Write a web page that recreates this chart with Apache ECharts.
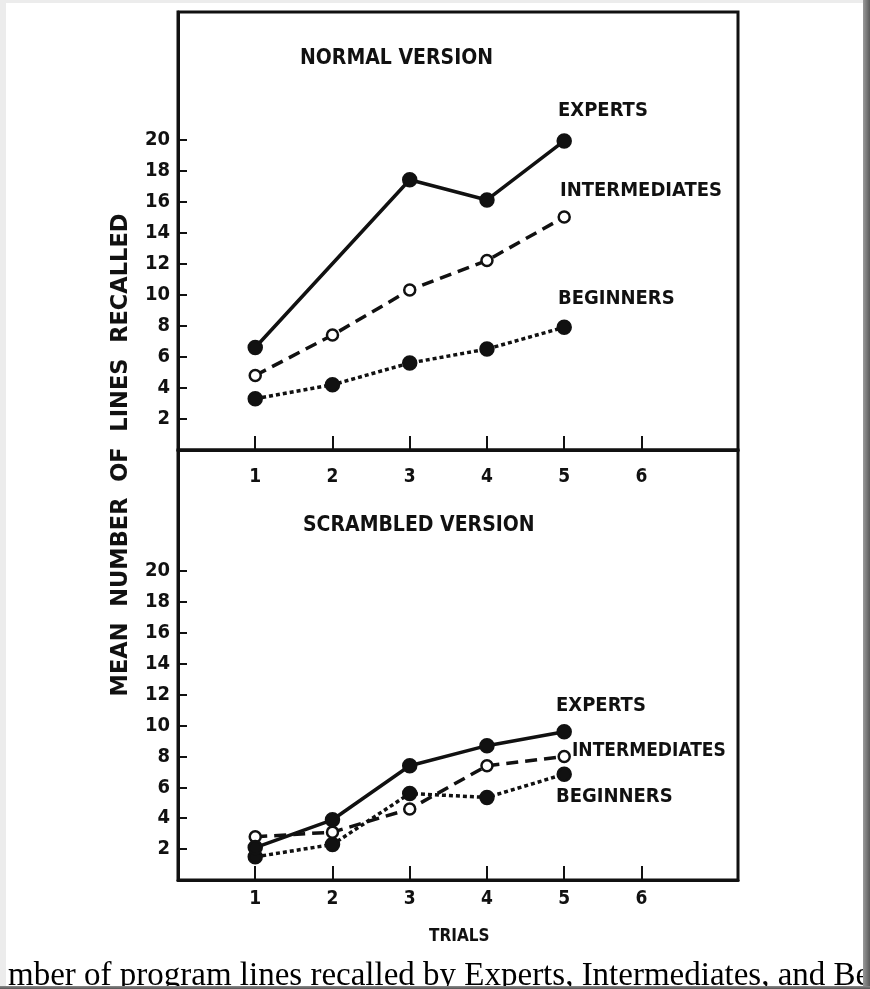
<!DOCTYPE html>
<html>
<head>
<meta charset="utf-8">
<script src="https://cdn.jsdelivr.net/npm/echarts@6/dist/echarts.min.js"></script>
<style>
html,body{margin:0;padding:0;background:#ececec;}
#chart{width:870px;height:989px;}
</style>
</head>
<body>
<div id="chart"></div>
<script>
// ---- data ----
const trials = [1, 2, 3, 4, 5];
const xTickValues = [1, 2, 3, 4, 5, 6];
const yTickValues = [2, 4, 6, 8, 10, 12, 14, 16, 18, 20];
const groups = ['EXPERTS', 'INTERMEDIATES', 'BEGINNERS'];
const normalExperts = [6.6, null, 17.4, 16.1, 19.9];
const normalIntermediates = [4.8, 7.4, 10.3, 12.2, 15.0];
const normalBeginners = [3.3, 4.2, 5.6, 6.5, 7.9];
const scrambledExperts = [2.1, 3.9, 7.4, 8.7, 9.6];
const scrambledIntermediates = [2.8, 3.1, 4.6, 7.4, 8.0];
const scrambledBeginners = [1.5, 2.3, 5.6, 5.35, 6.85];
const panelTitles = ['NORMAL VERSION', 'SCRAMBLED VERSION'];
const yAxisTitle = 'MEAN NUMBER OF LINES RECALLED';
const xAxisTitle = 'TRIALS';
const caption = 'mber of program lines recalled by Experts, Intermediates, and Be';

// ---- build ----
const INK = '#111';
const FONT = '"DejaVu Sans Condensed", "DejaVu Sans", sans-serif';
const pairs = vals => trials.map((t, i) => [t, vals[i]]).filter(p => p[1] !== null);

function xAxisFor(gridIndex, margin) {
  return {
    type: 'value', gridIndex, min: 0, max: 7.25,
    axisLine: { show: true, lineStyle: { color: INK, width: 3 } },
    axisTick: { show: true, inside: true, length: 14, customValues: xTickValues, lineStyle: { color: INK, width: 2 } },
    axisLabel: { show: true, customValues: xTickValues, margin, color: INK, fontFamily: FONT, fontWeight: 'bold', fontSize: 19 },
    splitLine: { show: false }
  };
}
function yAxisFor(gridIndex, max) {
  return {
    type: 'value', gridIndex, min: 0, max,
    axisLine: { show: true, lineStyle: { color: INK, width: 3 } },
    axisTick: { show: true, inside: true, length: 9, customValues: yTickValues, lineStyle: { color: INK, width: 2 } },
    axisLabel: { show: true, customValues: yTickValues, margin: 8, color: INK, fontFamily: FONT, fontWeight: 'bold', fontSize: 20 },
    splitLine: { show: false }
  };
}
const styles = [
  { type: 'solid', symbolFill: INK, symbolSize: 13 },
  { type: [12, 7], symbolFill: '#fff', symbolSize: 11 },
  { type: [4, 3], symbolFill: INK, symbolSize: 13 }
];
function seriesFor(name, vals, idx, gi) {
  const s = styles[idx];
  return {
    type: 'line', name, xAxisIndex: gi, yAxisIndex: gi,
    data: pairs(vals), connectNulls: true,
    symbol: 'circle', symbolSize: s.symbolSize, showAllSymbol: true,
    lineStyle: { color: INK, width: 3.5, type: s.type },
    itemStyle: { color: s.symbolFill, borderColor: INK, borderWidth: 2.5 },
    silent: true, animation: false, z: 3 - idx
  };
}
const txt = (x, y, text, size, extra) => Object.assign({
  type: 'text', left: x, top: y, silent: true, z: 50,
  style: { text, fill: INK, font: 'bold ' + size + 'px ' + FONT }
}, extra || {});

const chart = echarts.init(document.getElementById('chart'), null, { renderer: 'canvas' });
chart.setOption({
  backgroundColor: '#ececec',
  animation: false,
  grid: [
    { left: 178, top: 12, width: 560, height: 438, show: true, borderColor: INK, borderWidth: 3, backgroundColor: 'transparent' },
    { left: 178, top: 450, width: 560, height: 430, show: true, borderColor: INK, borderWidth: 3, backgroundColor: 'transparent' }
  ],
  xAxis: [xAxisFor(0, 18), xAxisFor(1, 10)],
  yAxis: [yAxisFor(0, 28.2), yAxisFor(1, 27.85)],
  series: [
    seriesFor(groups[0], normalExperts, 0, 0),
    seriesFor(groups[1], normalIntermediates, 1, 0),
    seriesFor(groups[2], normalBeginners, 2, 0),
    seriesFor(groups[0], scrambledExperts, 0, 1),
    seriesFor(groups[1], scrambledIntermediates, 1, 1),
    seriesFor(groups[2], scrambledBeginners, 2, 1)
  ],
  graphic: [
    { type: 'rect', shape: { x: 6, y: 3, width: 857, height: 984 }, style: { fill: '#fff' }, z: -10, silent: true },
    txt(300, 48, panelTitles[0], 21),
    txt(558, 101, groups[0], 20),
    txt(560, 181, groups[1], 20),
    txt(558, 289, groups[2], 20),
    txt(303, 515, panelTitles[1], 21),
    txt(556, 696, groups[0], 20),
    txt(572, 742, groups[1], 19),
    txt(556, 787, groups[2], 20),
    txt(429, 928, xAxisTitle, 17),
    {
      type: 'text', x: 121, y: 455, rotation: Math.PI / 2, silent: true, z: 50,
      style: { text: yAxisTitle.split(' ').join('  '), fill: INK, font: 'bold 22.5px "DejaVu Sans", sans-serif', align: 'center', verticalAlign: 'middle' }
    },
    {
      type: 'text', left: 8, top: 960, silent: true, z: 50,
      style: { text: caption, fill: '#000', font: '33px "Liberation Serif", "DejaVu Serif", serif' }
    },
    { type: 'rect', shape: { x: 863, y: 0, width: 7, height: 989 }, silent: true, z: 60,
      style: { fill: new echarts.graphic.LinearGradient(0, 0, 1, 0, [{ offset: 0, color: '#9a9a9a' }, { offset: 1, color: '#5a5a5a' }]) } },
    { type: 'rect', shape: { x: 0, y: 986, width: 870, height: 3 }, silent: true, z: 60,
      style: { fill: new echarts.graphic.LinearGradient(0, 0, 0, 1, [{ offset: 0, color: '#8a8a8a' }, { offset: 1, color: '#555' }]) } }
  ]
});
</script>
</body>
</html>
